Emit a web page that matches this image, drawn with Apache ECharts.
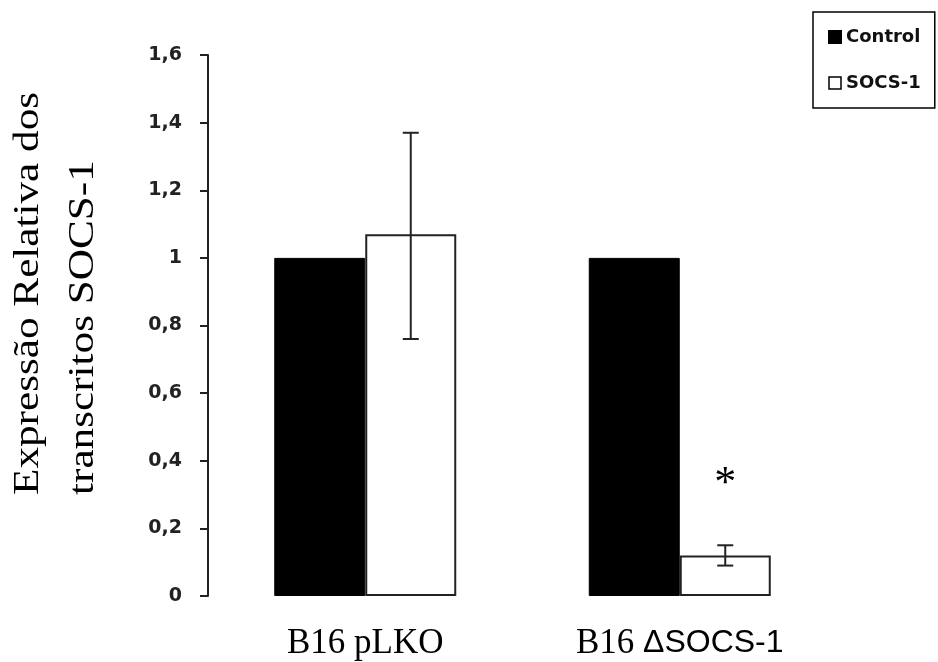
<!DOCTYPE html>
<html>
<head>
<meta charset="utf-8">
<script src="https://cdn.jsdelivr.net/npm/echarts@6/dist/echarts.min.js"></script>
<style>
html,body{margin:0;padding:0;background:#fff;}
#chart{width:938px;height:662px;}
</style>
</head>
<body>
<div id="chart"></div>
<script>
// ---- data ----
const categories = ['B16 pLKO', 'B16 \u0394SOCS-1'];
const controlValues = [1, 1];
const socsValues = [1.07, 0.12];
const socsErrLow = [0.76, 0.09];
const socsErrHigh = [1.37, 0.15];
const significance = ['', '*'];
const sigValues = [null, 0.33];
const yTicks = { min: 0, max: 1.6, interval: 0.2 };
const yTitle = 'Expressão Relativa dos\ntranscritos SOCS-1';

const chart = echarts.init(document.getElementById('chart'));
const BAR_W = 91;

const errData = categories.map((c, i) => [i, socsErrLow[i], socsErrHigh[i]]);

chart.setOption({
  backgroundColor: '#fff',
  animation: false,
  grid: { left: 208, right: 101, top: 55, bottom: 66 },
  graphic: [{
    type: 'text',
    x: 1, y: 495,
    rotation: Math.PI / 2,
    scaleX: 1.2,
    style: {
      text: yTitle,
      font: '36px "Liberation Serif", "Times New Roman", serif',
      fill: '#000',
      align: 'left',
      verticalAlign: 'top',
      lineHeight: 55
    }
  }],
  legend: {
    orient: 'vertical',
    left: 813, top: 12,
    padding: [16, 14, 16, 15],
    itemGap: 28,
    itemWidth: 12, itemHeight: 12,
    borderColor: '#000', borderWidth: 1.5,
    textStyle: { fontFamily: 'DejaVu Sans', fontWeight: 'bold', fontSize: 18, color: '#111' },
    data: [
      { name: 'Control', icon: 'rect' },
      { name: 'SOCS-1', icon: 'rect', itemStyle: { color: '#fff', borderColor: '#000', borderWidth: 1.5 } }
    ]
  },
  xAxis: {
    type: 'category',
    data: categories,
    axisLine: { show: false },
    axisTick: { show: false },
    axisLabel: {
      margin: 30,
      formatter: function (v) {
        if (v.indexOf('\u0394') >= 0) return '{s|B16 }{a|' + v.replace('B16 ', '') + '}';
        return '{s|' + v + '}';
      },
      rich: {
        s: { fontFamily: 'Liberation Serif, Times New Roman', fontSize: 35, color: '#000' },
        a: { fontFamily: 'Liberation Sans, Arial', fontSize: 32, color: '#000' }
      }
    }
  },
  yAxis: {
    type: 'value',
    min: yTicks.min, max: yTicks.max, interval: yTicks.interval,
    axisLine: { show: true, lineStyle: { color: '#222', width: 2 } },
    axisTick: { show: true, length: 8, lineStyle: { color: '#222', width: 2 } },
    splitLine: { show: false },
    axisLabel: {
      margin: 26,
      fontFamily: 'DejaVu Sans',
      fontWeight: 'bold',
      fontSize: 19,
      color: '#222',
      formatter: function (v) { return String(Math.round(v * 10) / 10).replace('.', ','); }
    }
  },
  series: [
    {
      name: 'Control', type: 'bar', data: controlValues,
      barWidth: BAR_W, barGap: '0%',
      itemStyle: { color: '#000', borderColor: '#000', borderWidth: 1 }
    },
    {
      name: 'SOCS-1', type: 'bar', data: socsValues,
      barWidth: BAR_W, barGap: '0%',
      itemStyle: { color: '#fff', borderColor: '#222', borderWidth: 2 }
    },
    {
      type: 'custom',
      name: 'err',
      data: errData,
      z: 10,
      renderItem: function (params, api) {
        const idx = api.value(0);
        const lo = api.coord([idx, api.value(1)]);
        const hi = api.coord([idx, api.value(2)]);
        const x = lo[0] + BAR_W / 2;
        const cap = 8;
        const style = { stroke: '#222', lineWidth: 2 };
        const children = [
          { type: 'line', shape: { x1: x, y1: lo[1], x2: x, y2: hi[1] }, style: style },
          { type: 'line', shape: { x1: x - cap, y1: lo[1], x2: x + cap, y2: lo[1] }, style: style },
          { type: 'line', shape: { x1: x - cap, y1: hi[1], x2: x + cap, y2: hi[1] }, style: style }
        ];
        const sig = significance[idx];
        if (sig) {
          const sp = api.coord([idx, sigValues[idx]]);
          children.push({
            type: 'text',
            style: {
              text: sig, x: x, y: sp[1],
              align: 'center', verticalAlign: 'middle',
              font: '44px "Liberation Serif", "Times New Roman"', fill: '#000'
            }
          });
        }
        return { type: 'group', children: children };
      }
    }
  ]
});
</script>
</body>
</html>
